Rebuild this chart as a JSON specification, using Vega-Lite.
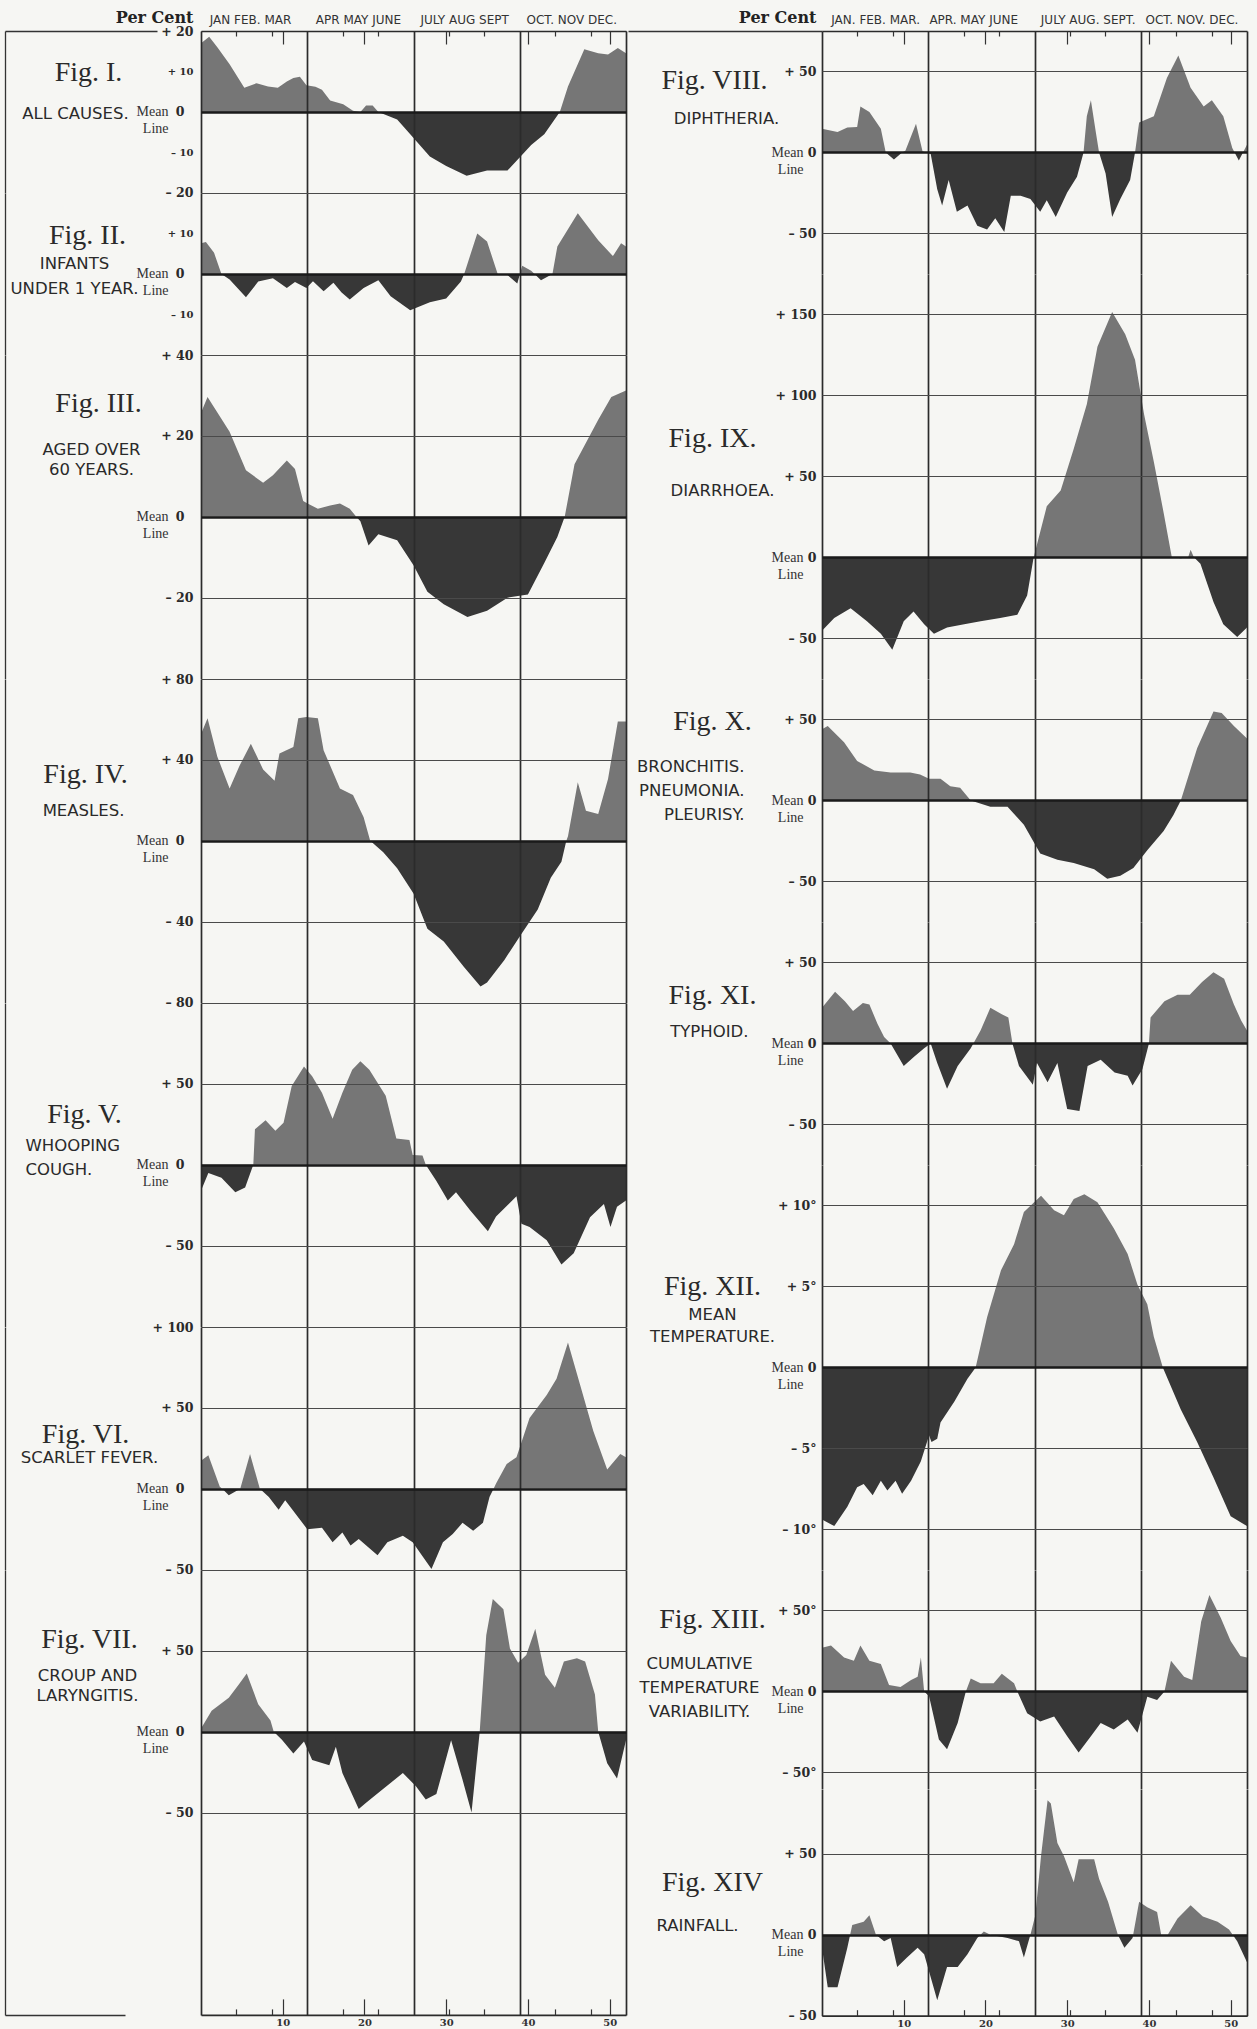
{
"$schema":"https://vega.github.io/schema/vega-lite/v6.json",
"background":"#f6f6f3",
"padding":{"left":4,"top":9,"right":13,"bottom":1},
"autosize":{"type":"pad"},
"config":{"view":{"stroke":null},"font":"DejaVu Sans","concat":{"spacing":0}},
"datasets":{
"f1":[{"w":0,"v":17},{"w":1,"v":18.6},{"w":2,"v":16},{"w":3.5,"v":11.8},{"w":5.3,"v":6},{"w":6.8,"v":7.1},{"w":8.2,"v":6.3},{"w":9.4,"v":6},{"w":10.5,"v":7.5},{"w":11.3,"v":8.4},{"w":12.1,"v":8.7},{"w":12.9,"v":6.6},{"w":14,"v":6.2},{"w":14.8,"v":5.5},{"w":15.8,"v":2.8},{"w":17.4,"v":1.9},{"w":18.6,"v":0.3},{"w":19.5,"v":0},{"w":20.2,"v":1.6},{"w":21,"v":1.6},{"w":21.7,"v":0},{"w":24,"v":-1.9},{"w":25.6,"v":-5.5},{"w":28,"v":-11},{"w":30,"v":-13.4},{"w":32.5,"v":-15.8},{"w":35,"v":-14.5},{"w":37.5,"v":-14.5},{"w":39.1,"v":-11},{"w":40.4,"v":-8.2},{"w":42,"v":-5.5},{"w":43.9,"v":0},{"w":44.9,"v":6.3},{"w":46.9,"v":15.5},{"w":48.6,"v":14.5},{"w":49.8,"v":14.2},{"w":51,"v":15.8},{"w":52,"v":14.5}],
"f2":[{"w":0,"v":7.6},{"w":0.6,"v":7.9},{"w":1.6,"v":5.2},{"w":2.5,"v":0},{"w":3.5,"v":-1.4},{"w":5.5,"v":-5.8},{"w":7,"v":-1.9},{"w":8.8,"v":-1.1},{"w":10.5,"v":-3.5},{"w":11.5,"v":-2},{"w":12.9,"v":-3.5},{"w":13.7,"v":-1.8},{"w":15,"v":-4.3},{"w":16.2,"v":-2.2},{"w":17.2,"v":-4.6},{"w":18.2,"v":-6.3},{"w":19.9,"v":-3.5},{"w":21.7,"v":-1.6},{"w":23.2,"v":-5.5},{"w":25.6,"v":-9},{"w":28,"v":-7},{"w":30,"v":-6.1},{"w":31.8,"v":-1.9},{"w":32.2,"v":0},{"w":33.8,"v":10},{"w":35,"v":8},{"w":36.3,"v":0},{"w":37.5,"v":-0.3},{"w":38.7,"v":-2.4},{"w":39.3,"v":2},{"w":40.4,"v":0.8},{"w":41.6,"v":-1.6},{"w":43,"v":0},{"w":43.6,"v":6.8},{"w":46.1,"v":15},{"w":48.6,"v":8.3},{"w":50.4,"v":4.4},{"w":51.4,"v":7.6},{"w":52,"v":6.8}],
"f3":[{"w":0,"v":25.7},{"w":0.8,"v":29.6},{"w":3.5,"v":21},{"w":5.5,"v":11.5},{"w":7.6,"v":8.4},{"w":8.8,"v":10.3},{"w":10.5,"v":13.9},{"w":11.5,"v":11.8},{"w":12.5,"v":3.9},{"w":13.1,"v":3.2},{"w":14.3,"v":2},{"w":15.8,"v":2.8},{"w":17,"v":3.3},{"w":18.2,"v":2},{"w":19,"v":0},{"w":19.5,"v":-1.1},{"w":20.5,"v":-7.1},{"w":21.7,"v":-4.3},{"w":24,"v":-5.8},{"w":26,"v":-12},{"w":27.7,"v":-18.5},{"w":29.7,"v":-21.6},{"w":32.6,"v":-24.8},{"w":35,"v":-23.2},{"w":37.5,"v":-20},{"w":40,"v":-19.2},{"w":42,"v":-11.4},{"w":43.6,"v":-5},{"w":44.5,"v":0},{"w":45.7,"v":13},{"w":48.6,"v":24},{"w":50.2,"v":29.6},{"w":52,"v":31.2}],
"f4":[{"w":0,"v":52.7},{"w":0.8,"v":60.6},{"w":2,"v":41.6},{"w":3.5,"v":25.9},{"w":4.7,"v":37},{"w":6.1,"v":48},{"w":7.6,"v":35.3},{"w":9,"v":29.7},{"w":9.6,"v":43.2},{"w":11.3,"v":46.4},{"w":11.9,"v":60.6},{"w":12.9,"v":61.2},{"w":14.3,"v":60.6},{"w":15,"v":44.8},{"w":17,"v":25.9},{"w":18.6,"v":22.7},{"w":19.9,"v":11.7},{"w":20.7,"v":0},{"w":22.3,"v":-5.7},{"w":24,"v":-13.6},{"w":26,"v":-26},{"w":27.7,"v":-43.5},{"w":29.7,"v":-49.8},{"w":32.2,"v":-62.5},{"w":34.2,"v":-72},{"w":35,"v":-70},{"w":37.1,"v":-59},{"w":39.1,"v":-46.7},{"w":41.2,"v":-34},{"w":42.8,"v":-18.3},{"w":44.1,"v":-10.4},{"w":44.7,"v":0},{"w":44.9,"v":2.2},{"w":46.1,"v":29},{"w":47.1,"v":14.8},{"w":48.6,"v":13.2},{"w":49.8,"v":30.6},{"w":51,"v":59},{"w":52,"v":59}],
"f5":[{"w":0,"v":-16},{"w":0.9,"v":-5},{"w":2.5,"v":-8},{"w":4.2,"v":-17},{"w":5.4,"v":-14},{"w":6.4,"v":0},{"w":6.6,"v":22},{"w":7.9,"v":27.6},{"w":9.1,"v":21},{"w":10.1,"v":26},{"w":11.1,"v":48.7},{"w":12.6,"v":60.8},{"w":13.6,"v":54.7},{"w":14.8,"v":44.6},{"w":16.1,"v":28.4},{"w":17.3,"v":44.6},{"w":18.5,"v":58.8},{"w":19.5,"v":64},{"w":20.6,"v":58.8},{"w":22.6,"v":42.6},{"w":23.9,"v":16.2},{"w":25.5,"v":15.4},{"w":25.9,"v":6},{"w":27.1,"v":5.7},{"w":27.5,"v":0},{"w":28.8,"v":-10},{"w":30.2,"v":-22},{"w":31.2,"v":-17},{"w":32.9,"v":-28},{"w":35.1,"v":-41},{"w":36.1,"v":-32},{"w":38.6,"v":-19.5},{"w":39.2,"v":-36.5},{"w":40.2,"v":-38.5},{"w":42.3,"v":-46.6},{"w":44.1,"v":-61.6},{"w":45.6,"v":-54.7},{"w":47.6,"v":-32.4},{"w":49.3,"v":-24.3},{"w":50.1,"v":-38.5},{"w":50.9,"v":-26},{"w":52,"v":-22}],
"f6":[{"w":0,"v":17.4},{"w":0.9,"v":20.7},{"w":2.3,"v":1.2},{"w":2.6,"v":0},{"w":3.4,"v":-4},{"w":4.8,"v":0},{"w":6,"v":21.5},{"w":7.2,"v":0},{"w":8.3,"v":-5},{"w":9.5,"v":-13},{"w":10.3,"v":-7},{"w":12.4,"v":-21},{"w":13,"v":-25},{"w":14.8,"v":-24},{"w":16.1,"v":-33},{"w":17.3,"v":-27},{"w":18.3,"v":-35},{"w":19.3,"v":-31},{"w":21.6,"v":-41},{"w":22.8,"v":-33},{"w":24.7,"v":-29},{"w":25.9,"v":-33},{"w":28.2,"v":-49.5},{"w":29.6,"v":-33},{"w":30.8,"v":-28},{"w":32,"v":-21},{"w":33.3,"v":-26},{"w":34.5,"v":-21},{"w":35.3,"v":-5},{"w":35.8,"v":0},{"w":36.1,"v":3.2},{"w":37.4,"v":15.4},{"w":38.6,"v":19.5},{"w":40.2,"v":43.8},{"w":42.3,"v":58},{"w":43.5,"v":68},{"w":44.9,"v":90.4},{"w":46.4,"v":64},{"w":48,"v":35.7},{"w":49.7,"v":12},{"w":51.3,"v":21.5},{"w":52,"v":19.5}],
"f7":[{"w":0,"v":2},{"w":1.3,"v":13},{"w":3.4,"v":21},{"w":4.6,"v":29},{"w":5.6,"v":36},{"w":7,"v":17},{"w":8.5,"v":7},{"w":8.9,"v":0},{"w":9.9,"v":-5},{"w":11.3,"v":-13.4},{"w":12.6,"v":-6},{"w":13.6,"v":-17.4},{"w":15.7,"v":-20.7},{"w":16.5,"v":-9.3},{"w":17.3,"v":-25.5},{"w":19.3,"v":-47.8},{"w":20.2,"v":-43.8},{"w":22.2,"v":-35.7},{"w":24.7,"v":-25.5},{"w":26.3,"v":-33.7},{"w":27.5,"v":-41.8},{"w":28.8,"v":-38.5},{"w":30.6,"v":-5.3},{"w":32,"v":-29.6},{"w":33.1,"v":-49.9},{"w":34.1,"v":0},{"w":34.9,"v":59.6},{"w":35.7,"v":82},{"w":37,"v":75.8},{"w":37.8,"v":51.5},{"w":38.8,"v":42.6},{"w":39.8,"v":47.4},{"w":40.9,"v":63.7},{"w":42.1,"v":35.3},{"w":43.3,"v":27.2},{"w":44.4,"v":43.4},{"w":46,"v":45.4},{"w":47,"v":43.4},{"w":48.2,"v":23.1},{"w":48.6,"v":0},{"w":49.7,"v":-19.5},{"w":50.9,"v":-28.8},{"w":52,"v":-5.3}],
"f8":[{"w":0,"v":14.6},{"w":1.9,"v":12.6},{"w":3.1,"v":15.4},{"w":4.3,"v":15.7},{"w":4.7,"v":28.3},{"w":5.8,"v":25},{"w":7.2,"v":14.6},{"w":7.8,"v":0},{"w":8.8,"v":-4.3},{"w":9.8,"v":0},{"w":10.2,"v":1},{"w":11.5,"v":17.7},{"w":12.3,"v":0.8},{"w":13.3,"v":-1},{"w":14.1,"v":-22.8},{"w":14.7,"v":-32.7},{"w":15.5,"v":-17},{"w":16.5,"v":-36.6},{"w":17.8,"v":-32.7},{"w":19,"v":-45.3},{"w":20.2,"v":-47.6},{"w":21.2,"v":-40.6},{"w":22.3,"v":-49.2},{"w":23.1,"v":-26.8},{"w":24.3,"v":-26.8},{"w":25.5,"v":-28.7},{"w":26.7,"v":-36.6},{"w":27.5,"v":-29.5},{"w":28.6,"v":-39.8},{"w":30,"v":-24.8},{"w":31.2,"v":-15},{"w":32,"v":0},{"w":32.4,"v":22.4},{"w":32.9,"v":32.3},{"w":33.5,"v":12.6},{"w":33.9,"v":0},{"w":34.7,"v":-13},{"w":35.5,"v":-39.8},{"w":36.5,"v":-28.7},{"w":37.7,"v":-17},{"w":38.3,"v":0},{"w":38.8,"v":18.5},{"w":40.6,"v":22.4},{"w":42.2,"v":46},{"w":43.6,"v":59.8},{"w":45.1,"v":40},{"w":46.7,"v":28.3},{"w":47.7,"v":32.3},{"w":49.1,"v":22.4},{"w":50.2,"v":2.8},{"w":51,"v":-5},{"w":52,"v":4.7}],
"f9":[{"w":0,"v":-45.3},{"w":1.5,"v":-37.4},{"w":3.5,"v":-31.5},{"w":5.5,"v":-39.4},{"w":7.2,"v":-47.2},{"w":8.6,"v":-57},{"w":10,"v":-39.4},{"w":11.2,"v":-33.5},{"w":12.5,"v":-41.3},{"w":13.7,"v":-47.2},{"w":15.3,"v":-43.3},{"w":17.4,"v":-41.3},{"w":19.4,"v":-39.4},{"w":21.8,"v":-37.4},{"w":23.9,"v":-35.4},{"w":25.1,"v":-23.6},{"w":25.9,"v":0},{"w":27.5,"v":31.5},{"w":29.2,"v":41.3},{"w":30.8,"v":67},{"w":32.4,"v":94.5},{"w":33.7,"v":130},{"w":35.5,"v":151.6},{"w":37.1,"v":137.8},{"w":38.3,"v":122},{"w":39.4,"v":88.6},{"w":40.6,"v":59},{"w":41.8,"v":27.6},{"w":42.8,"v":0},{"w":43.9,"v":-0.5},{"w":44.8,"v":0},{"w":45.1,"v":4.7},{"w":45.5,"v":0},{"w":46.3,"v":-4},{"w":47.9,"v":-27.6},{"w":49.1,"v":-41.3},{"w":50.8,"v":-49.2},{"w":52,"v":-43.3}],
"f10":[{"w":0,"v":44},{"w":0.7,"v":46},{"w":2.7,"v":36},{"w":4.3,"v":24.4},{"w":6.4,"v":18.5},{"w":8.4,"v":17.3},{"w":10.8,"v":17.3},{"w":12,"v":16},{"w":13.1,"v":13.4},{"w":14.5,"v":13.4},{"w":15.7,"v":8.7},{"w":16.9,"v":7.9},{"w":18.2,"v":0},{"w":20.6,"v":-3.9},{"w":22.7,"v":-3.9},{"w":24.7,"v":-15},{"w":26.7,"v":-32.7},{"w":28.8,"v":-36.6},{"w":30.8,"v":-38.6},{"w":33.3,"v":-42.5},{"w":34.9,"v":-48.4},{"w":36.5,"v":-46.5},{"w":38.1,"v":-41.7},{"w":39.8,"v":-30.7},{"w":41.8,"v":-18.9},{"w":43,"v":-9},{"w":43.9,"v":0},{"w":45.9,"v":32.3},{"w":47.9,"v":55},{"w":48.9,"v":54},{"w":50.4,"v":46},{"w":52,"v":38.2}],
"f11":[{"w":0,"v":22},{"w":0.8,"v":27},{"w":1.6,"v":32},{"w":2.8,"v":26},{"w":3.8,"v":20},{"w":5,"v":25},{"w":5.8,"v":24},{"w":6.8,"v":12},{"w":7.6,"v":4},{"w":8.4,"v":0},{"w":10,"v":-14},{"w":11.3,"v":-8},{"w":12.5,"v":-3},{"w":13.3,"v":0},{"w":14.1,"v":-12},{"w":15.3,"v":-28},{"w":16.6,"v":-14},{"w":18.2,"v":-3},{"w":19.4,"v":8},{"w":20.6,"v":22},{"w":22,"v":18},{"w":22.8,"v":16},{"w":23.3,"v":0},{"w":24.1,"v":-14},{"w":25.8,"v":-25.5},{"w":26.3,"v":-12},{"w":27.6,"v":-24},{"w":28.8,"v":-12},{"w":30,"v":-40.5},{"w":31.5,"v":-41.7},{"w":32.5,"v":-14},{"w":34.1,"v":-10},{"w":35.8,"v":-18},{"w":37.4,"v":-20},{"w":38,"v":-26},{"w":39.2,"v":-16},{"w":40,"v":0},{"w":40.2,"v":16},{"w":41.9,"v":26},{"w":43.5,"v":30},{"w":45,"v":30},{"w":46.5,"v":38},{"w":47.9,"v":44},{"w":49.2,"v":40},{"w":50.4,"v":24},{"w":51.3,"v":14},{"w":52,"v":8}],
"f12":[{"w":0,"v":-9.4},{"w":1.5,"v":-9.8},{"w":3.1,"v":-8.6},{"w":4.3,"v":-7.4},{"w":5.1,"v":-7.2},{"w":6.2,"v":-7.9},{"w":7.2,"v":-7},{"w":8,"v":-7.6},{"w":9,"v":-7},{"w":9.8,"v":-7.8},{"w":10.9,"v":-7},{"w":12.1,"v":-5.8},{"w":13.1,"v":-4.2},{"w":13.4,"v":-4.6},{"w":14.1,"v":-4.4},{"w":14.5,"v":-3.4},{"w":16.2,"v":-2.1},{"w":17.8,"v":-0.7},{"w":18.8,"v":0},{"w":20.2,"v":3.1},{"w":21.9,"v":6},{"w":23.5,"v":7.6},{"w":24.7,"v":9.6},{"w":26.8,"v":10.6},{"w":28.4,"v":9.7},{"w":29.6,"v":9.4},{"w":30.8,"v":10.4},{"w":32.1,"v":10.7},{"w":33.7,"v":10.2},{"w":35.7,"v":8.6},{"w":37.4,"v":7},{"w":38.6,"v":5.1},{"w":39.8,"v":3.9},{"w":40.6,"v":1.9},{"w":41.7,"v":0},{"w":43.9,"v":-2.6},{"w":45.9,"v":-4.6},{"w":47.9,"v":-6.8},{"w":50,"v":-9.2},{"w":52,"v":-9.8}],
"f13":[{"w":0,"v":27},{"w":1.1,"v":28.4},{"w":2.7,"v":21},{"w":3.9,"v":19},{"w":4.7,"v":28.4},{"w":5.8,"v":19},{"w":7.2,"v":17},{"w":8.2,"v":4},{"w":9.6,"v":2.8},{"w":10.9,"v":7},{"w":11.7,"v":9},{"w":12.1,"v":21},{"w":12.5,"v":0},{"w":13.1,"v":-3},{"w":14.3,"v":-29.6},{"w":15.3,"v":-35.7},{"w":16.6,"v":-19.5},{"w":17.6,"v":0},{"w":18.2,"v":8},{"w":19.4,"v":5},{"w":21,"v":5},{"w":22,"v":11},{"w":23.5,"v":5},{"w":23.9,"v":0},{"w":25.1,"v":-13.4},{"w":26.7,"v":-18.6},{"w":28.4,"v":-15.4},{"w":30,"v":-27.6},{"w":31.4,"v":-37.7},{"w":32.9,"v":-27.6},{"w":34.1,"v":-19.5},{"w":35.7,"v":-23.5},{"w":37.4,"v":-17.4},{"w":38.6,"v":-25.5},{"w":39.8,"v":-3.2},{"w":41,"v":-5.3},{"w":41.9,"v":0},{"w":42.7,"v":19},{"w":44.3,"v":9},{"w":45.3,"v":7},{"w":46.4,"v":43.4},{"w":47.4,"v":59.6},{"w":48.8,"v":45.4},{"w":50,"v":31.2},{"w":51.2,"v":21.9},{"w":52,"v":21}],
"f14":[{"w":0,"v":-8},{"w":0.7,"v":-32.4},{"w":1.9,"v":-32.4},{"w":3.1,"v":-8},{"w":3.7,"v":6},{"w":5.1,"v":8},{"w":5.8,"v":12},{"w":6.6,"v":0},{"w":7.6,"v":-4},{"w":8.4,"v":-2},{"w":9.2,"v":-20},{"w":10.4,"v":-14},{"w":11.7,"v":-8},{"w":12.5,"v":-12},{"w":14.1,"v":-40.5},{"w":15.3,"v":-20},{"w":16.6,"v":-20},{"w":17.8,"v":-12},{"w":19,"v":-2},{"w":19.8,"v":2},{"w":20.6,"v":0},{"w":22.7,"v":-2},{"w":24.1,"v":-4},{"w":24.7,"v":-14},{"w":25.5,"v":0},{"w":26.1,"v":12},{"w":26.8,"v":48.6},{"w":27.6,"v":83},{"w":28,"v":81},{"w":28.8,"v":56.7},{"w":29.6,"v":48.6},{"w":30.8,"v":32.4},{"w":31.4,"v":46.6},{"w":33.3,"v":46.6},{"w":33.9,"v":34.5},{"w":35,"v":20.3},{"w":36.2,"v":0},{"w":37,"v":-8},{"w":38,"v":-2},{"w":38.8,"v":20.3},{"w":39.8,"v":17},{"w":41,"v":14},{"w":41.5,"v":0},{"w":42.3,"v":0},{"w":43.5,"v":10},{"w":45.1,"v":18.2},{"w":46.6,"v":11.3},{"w":48.4,"v":8},{"w":49.8,"v":3.2},{"w":50.8,"v":-4},{"w":52,"v":-17}]
},
"spacing":-2,
"hconcat":[
{"vconcat":[
{"width":425,"height":161.8,"data":{"name":"f1"},"layer":[
{"mark":{"type":"area","clip":true,"fillOpacity":1,"fill":{"gradient":"linear","x1":0,"y1":0,"x2":0,"y2":1,"stops":[{"offset":0,"color":"#767676"},{"offset":0.5407,"color":"#767676"},{"offset":0.5407,"color":"#373737"},{"offset":1,"color":"#373737"}]}},
"encoding":{"x":{"field":"w","type":"quantitative","scale":{"domain":[0,52],"nice":false,"zero":false},"axis":{"orient":"bottom","values":[0,13,26,39,52],"grid":true,"gridColor":"#2b2b2b","gridWidth":1.7,"labels":false,"ticks":false,"domain":false,"title":null,"zindex":1}},
"y":{"field":"v","type":"quantitative","scale":{"domain":[-20,20],"nice":false,"zero":false},"axis":{"orient":"left","values":[20,10,0,-10,-20],"labelExpr":"datum.value > 0 ? '+ ' + datum.value : datum.value < 0 ? '– ' + (-datum.value) : '0'","grid":false,"ticks":false,"domain":false,"labelFont":"DejaVu Serif","labelFontWeight":"bold","labelFontSize":{"condition":{"test":"abs(datum.value) === 10","value":10},"value":12.5},"labelColor":"#2a2a2a","labelPadding":{"condition":{"test":"datum.value === 0","value":17},"value":8},"labelOverlap":false,"title":"Fig. I.","titleAngle":0,"titleAlign":"center","titleBaseline":"top","titleX":-113,"titleY":27,"titleFont":"Liberation Serif","titleFontSize":28,"titleFontWeight":"normal","titleColor":"#2a2a2a"}},
"y2":{"datum":0}}},
{"mark":{"type":"point","opacity":0},
"encoding":{"x":{"field":"w","type":"quantitative","scale":{"domain":[0,52],"nice":false,"zero":false},"axis":{"orient":"top","values":[6.0,19.2,32.2,45.3],"labelExpr":"datum.value < 13 ? 'JAN FEB. MAR' : datum.value < 26 ? 'APR MAY JUNE' : datum.value < 39 ? 'JULY AUG SEPT' : 'OCT. NOV DEC.'","ticks":false,"grid":false,"domain":true,"domainColor":"#2b2b2b","domainWidth":1.7,"labelFont":"DejaVu Sans","labelFontSize":12,"labelColor":"#333","labelPadding":5,"labelFlush":false,"labelOverlap":false,"title":"Per Cent","titleFont":"DejaVu Serif","titleFontWeight":"bold","titleFontSize":16,"titleColor":"#222","titleAngle":0,"titleAlign":"right","titleBaseline":"alphabetic","titleX":-8,"titleY":-9,"zindex":1}},
"y":{"field":"v","type":"quantitative","scale":{"domain":[-20,20],"nice":false,"zero":false},"axis":{"orient":"left","values":[20,0,-20],"grid":true,"gridColor":{"condition":{"test":"datum.value === 0","value":"#1a1a1a"},"value":"#4a4a4a"},"gridWidth":{"condition":{"test":"datum.value === 0","value":2.4},"value":1},"ticks":false,"domain":false,"labelExpr":"datum.value === 0 ? ['Mean','Line'] : ''","labelFont":"Liberation Serif","labelFontSize":14,"labelLineHeight":17,"labelColor":"#333","labelPadding":33,"labelOverlap":false,"zindex":1,"title":"ALL CAUSES.","titleAngle":0,"titleAlign":"center","titleBaseline":"top","titleX":-126,"titleY":74,"titleFont":"DejaVu Sans","titleFontSize":16.5,"titleFontWeight":"normal","titleLineHeight":18,"titleColor":"#2a2a2a"}}}},
{"mark":{"type":"point","opacity":0},
"encoding":{"x":{"field":"w","type":"quantitative","scale":{"domain":[0,52],"nice":false,"zero":false},"axis":{"orient":"top","values":[4.33,8.67,17.33,21.67,30.33,34.67,43.33,47.67],"ticks":true,"tickSize":-5,"tickColor":"#333","tickWidth":1.2,"labels":false,"domain":false,"grid":false,"title":null,"zindex":1}},
"y":{"field":"v","type":"quantitative","scale":{"domain":[-20,20],"nice":false,"zero":false},"axis":{"orient":"left","offset":196,"domain":true,"domainColor":"#333","domainWidth":1.3,"ticks":true,"values":[20],"tickSize":-152,"tickColor":"#333","tickWidth":1.3,"labels":false,"grid":false,"title":null}}}},
{"mark":{"type":"point","opacity":0},
"encoding":{"x":{"field":"w","type":"quantitative","scale":{"domain":[0,52],"nice":false,"zero":false},"axis":{"orient":"top","values":[10,20,30,40,50],"ticks":true,"tickSize":-13,"tickColor":"#333","tickWidth":1.2,"labels":false,"domain":false,"grid":false,"title":null,"zindex":1}},
"y":{"field":"v","type":"quantitative","scale":{"domain":[-20,20],"nice":false,"zero":false},"axis":null}}}
],"resolve":{"axis":{"x":"independent","y":"independent"}}},

{"width":425,"height":161.8,"data":{"name":"f2"},"layer":[
{"mark":{"type":"area","clip":true,"fillOpacity":1,"fill":{"gradient":"linear","x1":0,"y1":0,"x2":0,"y2":1,"stops":[{"offset":0,"color":"#767676"},{"offset":0.625,"color":"#767676"},{"offset":0.625,"color":"#373737"},{"offset":1,"color":"#373737"}]}},
"encoding":{"x":{"field":"w","type":"quantitative","scale":{"domain":[0,52],"nice":false,"zero":false},"axis":{"orient":"bottom","values":[0,13,26,39,52],"grid":true,"gridColor":"#2b2b2b","gridWidth":1.7,"labels":false,"ticks":false,"domain":false,"title":null,"zindex":1}},
"y":{"field":"v","type":"quantitative","scale":{"domain":[-20,20],"nice":false,"zero":false},"axis":{"orient":"left","values":[10,0,-10],"labelExpr":"datum.value > 0 ? '+ ' + datum.value : datum.value < 0 ? '– ' + (-datum.value) : '0'","grid":false,"ticks":false,"domain":false,"labelFont":"DejaVu Serif","labelFontWeight":"bold","labelFontSize":{"condition":{"test":"abs(datum.value) === 10","value":10},"value":12.5},"labelColor":"#2a2a2a","labelPadding":{"condition":{"test":"datum.value === 0","value":17},"value":8},"labelOverlap":false,"title":"Fig. II.","titleAngle":0,"titleAlign":"center","titleBaseline":"top","titleX":-114,"titleY":28,"titleFont":"Liberation Serif","titleFontSize":28,"titleFontWeight":"normal","titleColor":"#2a2a2a"}},
"y2":{"datum":0}}},
{"mark":{"type":"point","opacity":0},
"encoding":{"x":{"field":"w","type":"quantitative","scale":{"domain":[0,52],"nice":false,"zero":false},"axis":null},
"y":{"field":"v","type":"quantitative","scale":{"domain":[-20,20],"nice":false,"zero":false},"axis":{"orient":"left","values":[20,0,-20],"grid":true,"gridColor":{"condition":{"test":"datum.value === 0","value":"#1a1a1a"},"value":"#4a4a4a"},"gridWidth":{"condition":{"test":"datum.value === 0","value":2.4},"value":1},"ticks":false,"domain":false,"labelExpr":"datum.value === 0 ? ['Mean','Line'] : ''","labelFont":"Liberation Serif","labelFontSize":14,"labelLineHeight":17,"labelColor":"#333","labelPadding":33,"labelOverlap":false,"zindex":1,"title":["INFANTS","UNDER 1 YEAR."],"titleAngle":0,"titleAlign":"center","titleBaseline":"top","titleX":-127,"titleY":62,"titleFont":"DejaVu Sans","titleFontSize":16.5,"titleFontWeight":"normal","titleLineHeight":25,"titleColor":"#2a2a2a"}}}},
{"mark":{"type":"point","opacity":0},
"encoding":{"x":{"field":"w","type":"quantitative","scale":{"domain":[0,52],"nice":false,"zero":false},"axis":null},
"y":{"field":"v","type":"quantitative","scale":{"domain":[-20,20],"nice":false,"zero":false},"axis":{"orient":"left","offset":196,"domain":true,"domainColor":"#333","domainWidth":1.3,"ticks":false,"labels":false,"grid":false,"title":null}}}}
],"resolve":{"axis":{"x":"independent","y":"independent"}}},

{"width":425,"height":323.6,"data":{"name":"f3"},"layer":[
{"mark":{"type":"area","clip":true,"fillOpacity":1,"fill":{"gradient":"linear","x1":0,"y1":0,"x2":0,"y2":1,"stops":[{"offset":0,"color":"#767676"},{"offset":0.5571,"color":"#767676"},{"offset":0.5571,"color":"#373737"},{"offset":1,"color":"#373737"}]}},
"encoding":{"x":{"field":"w","type":"quantitative","scale":{"domain":[0,52],"nice":false,"zero":false},"axis":{"orient":"bottom","values":[0,13,26,39,52],"grid":true,"gridColor":"#2b2b2b","gridWidth":1.7,"labels":false,"ticks":false,"domain":false,"title":null,"zindex":1}},
"y":{"field":"v","type":"quantitative","scale":{"domain":[-40,40],"nice":false,"zero":false},"axis":{"orient":"left","values":[40,20,0,-20],"labelExpr":"datum.value > 0 ? '+ ' + datum.value : datum.value < 0 ? '– ' + (-datum.value) : '0'","grid":false,"ticks":false,"domain":false,"labelFont":"DejaVu Serif","labelFontWeight":"bold","labelFontSize":12.5,"labelColor":"#2a2a2a","labelPadding":{"condition":{"test":"datum.value === 0","value":17},"value":8},"labelOverlap":false,"title":"Fig. III.","titleAngle":0,"titleAlign":"center","titleBaseline":"top","titleX":-103,"titleY":34,"titleFont":"Liberation Serif","titleFontSize":28,"titleFontWeight":"normal","titleColor":"#2a2a2a"}},
"y2":{"datum":0}}},
{"mark":{"type":"point","opacity":0},
"encoding":{"x":{"field":"w","type":"quantitative","scale":{"domain":[0,52],"nice":false,"zero":false},"axis":null},
"y":{"field":"v","type":"quantitative","scale":{"domain":[-40,40],"nice":false,"zero":false},"axis":{"orient":"left","values":[40,20,0,-20,-40],"grid":true,"gridColor":{"condition":{"test":"datum.value === 0","value":"#1a1a1a"},"value":"#4a4a4a"},"gridWidth":{"condition":{"test":"datum.value === 0","value":2.4},"value":1},"ticks":false,"domain":false,"labelExpr":"datum.value === 0 ? ['Mean','Line'] : ''","labelFont":"Liberation Serif","labelFontSize":14,"labelLineHeight":17,"labelColor":"#333","labelPadding":33,"labelOverlap":false,"zindex":1,"title":["AGED OVER","60 YEARS."],"titleAngle":0,"titleAlign":"center","titleBaseline":"top","titleX":-110,"titleY":86,"titleFont":"DejaVu Sans","titleFontSize":16.5,"titleFontWeight":"normal","titleLineHeight":20,"titleColor":"#2a2a2a"}}}},
{"mark":{"type":"point","opacity":0},
"encoding":{"x":{"field":"w","type":"quantitative","scale":{"domain":[0,52],"nice":false,"zero":false},"axis":null},
"y":{"field":"v","type":"quantitative","scale":{"domain":[-40,40],"nice":false,"zero":false},"axis":{"orient":"left","offset":196,"domain":true,"domainColor":"#333","domainWidth":1.3,"ticks":false,"labels":false,"grid":false,"title":null}}}}
],"resolve":{"axis":{"x":"independent","y":"independent"}}},

{"width":425,"height":323.6,"data":{"name":"f4"},"layer":[
{"mark":{"type":"area","clip":true,"fillOpacity":1,"fill":{"gradient":"linear","x1":0,"y1":0,"x2":0,"y2":1,"stops":[{"offset":0,"color":"#767676"},{"offset":0.4595,"color":"#767676"},{"offset":0.4595,"color":"#373737"},{"offset":1,"color":"#373737"}]}},
"encoding":{"x":{"field":"w","type":"quantitative","scale":{"domain":[0,52],"nice":false,"zero":false},"axis":{"orient":"bottom","values":[0,13,26,39,52],"grid":true,"gridColor":"#2b2b2b","gridWidth":1.7,"labels":false,"ticks":false,"domain":false,"title":null,"zindex":1}},
"y":{"field":"v","type":"quantitative","scale":{"domain":[-80,80],"nice":false,"zero":false},"axis":{"orient":"left","values":[80,40,0,-40,-80],"labelExpr":"datum.value > 0 ? '+ ' + datum.value : datum.value < 0 ? '– ' + (-datum.value) : '0'","grid":false,"ticks":false,"domain":false,"labelFont":"DejaVu Serif","labelFontWeight":"bold","labelFontSize":12.5,"labelColor":"#2a2a2a","labelPadding":{"condition":{"test":"datum.value === 0","value":17},"value":8},"labelOverlap":false,"title":"Fig. IV.","titleAngle":0,"titleAlign":"center","titleBaseline":"top","titleX":-116,"titleY":81,"titleFont":"Liberation Serif","titleFontSize":28,"titleFontWeight":"normal","titleColor":"#2a2a2a"}},
"y2":{"datum":0}}},
{"mark":{"type":"point","opacity":0},
"encoding":{"x":{"field":"w","type":"quantitative","scale":{"domain":[0,52],"nice":false,"zero":false},"axis":null},
"y":{"field":"v","type":"quantitative","scale":{"domain":[-80,80],"nice":false,"zero":false},"axis":{"orient":"left","values":[80,40,0,-40,-80],"grid":true,"gridColor":{"condition":{"test":"datum.value === 0","value":"#1a1a1a"},"value":"#4a4a4a"},"gridWidth":{"condition":{"test":"datum.value === 0","value":2.4},"value":1},"ticks":false,"domain":false,"labelExpr":"datum.value === 0 ? ['Mean','Line'] : ''","labelFont":"Liberation Serif","labelFontSize":14,"labelLineHeight":17,"labelColor":"#333","labelPadding":33,"labelOverlap":false,"zindex":1,"title":"MEASLES.","titleAngle":0,"titleAlign":"center","titleBaseline":"top","titleX":-118,"titleY":123,"titleFont":"DejaVu Sans","titleFontSize":16.5,"titleFontWeight":"normal","titleColor":"#2a2a2a"}}}},
{"mark":{"type":"point","opacity":0},
"encoding":{"x":{"field":"w","type":"quantitative","scale":{"domain":[0,52],"nice":false,"zero":false},"axis":null},
"y":{"field":"v","type":"quantitative","scale":{"domain":[-80,80],"nice":false,"zero":false},"axis":{"orient":"left","offset":196,"domain":true,"domainColor":"#333","domainWidth":1.3,"ticks":false,"labels":false,"grid":false,"title":null}}}}
],"resolve":{"axis":{"x":"independent","y":"independent"}}},

{"width":425,"height":323.6,"data":{"name":"f5"},"layer":[
{"mark":{"type":"area","clip":true,"fillOpacity":1,"fill":{"gradient":"linear","x1":0,"y1":0,"x2":0,"y2":1,"stops":[{"offset":0,"color":"#767676"},{"offset":0.5096,"color":"#767676"},{"offset":0.5096,"color":"#373737"},{"offset":1,"color":"#373737"}]}},
"encoding":{"x":{"field":"w","type":"quantitative","scale":{"domain":[0,52],"nice":false,"zero":false},"axis":{"orient":"bottom","values":[0,13,26,39,52],"grid":true,"gridColor":"#2b2b2b","gridWidth":1.7,"labels":false,"ticks":false,"domain":false,"title":null,"zindex":1}},
"y":{"field":"v","type":"quantitative","scale":{"domain":[-100,100],"nice":false,"zero":false},"axis":{"orient":"left","values":[50,0,-50],"labelExpr":"datum.value > 0 ? '+ ' + datum.value : datum.value < 0 ? '– ' + (-datum.value) : '0'","grid":false,"ticks":false,"domain":false,"labelFont":"DejaVu Serif","labelFontWeight":"bold","labelFontSize":12.5,"labelColor":"#2a2a2a","labelPadding":{"condition":{"test":"datum.value === 0","value":17},"value":8},"labelOverlap":false,"title":"Fig. V.","titleAngle":0,"titleAlign":"center","titleBaseline":"top","titleX":-117,"titleY":97,"titleFont":"Liberation Serif","titleFontSize":28,"titleFontWeight":"normal","titleColor":"#2a2a2a"}},
"y2":{"datum":0}}},
{"mark":{"type":"point","opacity":0},
"encoding":{"x":{"field":"w","type":"quantitative","scale":{"domain":[0,52],"nice":false,"zero":false},"axis":null},
"y":{"field":"v","type":"quantitative","scale":{"domain":[-100,100],"nice":false,"zero":false},"axis":{"orient":"left","values":[100,50,0,-50,-100],"grid":true,"gridColor":{"condition":{"test":"datum.value === 0","value":"#1a1a1a"},"value":"#4a4a4a"},"gridWidth":{"condition":{"test":"datum.value === 0","value":2.4},"value":1},"ticks":false,"domain":false,"labelExpr":"datum.value === 0 ? ['Mean','Line'] : ''","labelFont":"Liberation Serif","labelFontSize":14,"labelLineHeight":17,"labelColor":"#333","labelPadding":33,"labelOverlap":false,"zindex":1,"title":["WHOOPING","COUGH."],"titleAngle":0,"titleAlign":"left","titleBaseline":"top","titleX":-176,"titleY":134,"titleFont":"DejaVu Sans","titleFontSize":16.5,"titleFontWeight":"normal","titleLineHeight":24,"titleColor":"#2a2a2a"}}}},
{"mark":{"type":"point","opacity":0},
"encoding":{"x":{"field":"w","type":"quantitative","scale":{"domain":[0,52],"nice":false,"zero":false},"axis":null},
"y":{"field":"v","type":"quantitative","scale":{"domain":[-100,100],"nice":false,"zero":false},"axis":{"orient":"left","offset":196,"domain":true,"domainColor":"#333","domainWidth":1.3,"ticks":false,"labels":false,"grid":false,"title":null}}}}
],"resolve":{"axis":{"x":"independent","y":"independent"}}},

{"width":425,"height":242.7,"data":{"name":"f6"},"layer":[
{"mark":{"type":"area","clip":true,"fillOpacity":1,"fill":{"gradient":"linear","x1":0,"y1":0,"x2":0,"y2":1,"stops":[{"offset":0,"color":"#767676"},{"offset":0.6462,"color":"#767676"},{"offset":0.6462,"color":"#373737"},{"offset":1,"color":"#373737"}]}},
"encoding":{"x":{"field":"w","type":"quantitative","scale":{"domain":[0,52],"nice":false,"zero":false},"axis":{"orient":"bottom","values":[0,13,26,39,52],"grid":true,"gridColor":"#2b2b2b","gridWidth":1.7,"labels":false,"ticks":false,"domain":false,"title":null,"zindex":1}},
"y":{"field":"v","type":"quantitative","scale":{"domain":[-50,100],"nice":false,"zero":false},"axis":{"orient":"left","values":[100,50,0,-50],"labelExpr":"datum.value > 0 ? '+ ' + datum.value : datum.value < 0 ? '– ' + (-datum.value) : '0'","grid":false,"ticks":false,"domain":false,"labelFont":"DejaVu Serif","labelFontWeight":"bold","labelFontSize":12.5,"labelColor":"#2a2a2a","labelPadding":{"condition":{"test":"datum.value === 0","value":17},"value":8},"labelOverlap":false,"title":"Fig. VI.","titleAngle":0,"titleAlign":"center","titleBaseline":"top","titleX":-116,"titleY":93,"titleFont":"Liberation Serif","titleFontSize":28,"titleFontWeight":"normal","titleColor":"#2a2a2a"}},
"y2":{"datum":0}}},
{"mark":{"type":"point","opacity":0},
"encoding":{"x":{"field":"w","type":"quantitative","scale":{"domain":[0,52],"nice":false,"zero":false},"axis":null},
"y":{"field":"v","type":"quantitative","scale":{"domain":[-50,100],"nice":false,"zero":false},"axis":{"orient":"left","values":[100,50,0,-50],"grid":true,"gridColor":{"condition":{"test":"datum.value === 0","value":"#1a1a1a"},"value":"#4a4a4a"},"gridWidth":{"condition":{"test":"datum.value === 0","value":2.4},"value":1},"ticks":false,"domain":false,"labelExpr":"datum.value === 0 ? ['Mean','Line'] : ''","labelFont":"Liberation Serif","labelFontSize":14,"labelLineHeight":17,"labelColor":"#333","labelPadding":33,"labelOverlap":false,"zindex":1,"title":"SCARLET FEVER.","titleAngle":0,"titleAlign":"center","titleBaseline":"top","titleX":-112,"titleY":122,"titleFont":"DejaVu Sans","titleFontSize":16.5,"titleFontWeight":"normal","titleColor":"#2a2a2a"}}}},
{"mark":{"type":"point","opacity":0},
"encoding":{"x":{"field":"w","type":"quantitative","scale":{"domain":[0,52],"nice":false,"zero":false},"axis":null},
"y":{"field":"v","type":"quantitative","scale":{"domain":[-50,100],"nice":false,"zero":false},"axis":{"orient":"left","offset":196,"domain":true,"domainColor":"#333","domainWidth":1.3,"ticks":false,"labels":false,"grid":false,"title":null}}}}
],"resolve":{"axis":{"x":"independent","y":"independent"}}},

{"width":425,"height":444.9,"data":{"name":"f7"},"layer":[
{"mark":{"type":"area","clip":true,"fillOpacity":1,"fill":{"gradient":"linear","x1":0,"y1":0,"x2":0,"y2":1,"stops":[{"offset":0,"color":"#767676"},{"offset":0.6217,"color":"#767676"},{"offset":0.6217,"color":"#373737"},{"offset":1,"color":"#373737"}]}},
"encoding":{"x":{"field":"w","type":"quantitative","scale":{"domain":[0,52],"nice":false,"zero":false},"axis":{"orient":"bottom","values":[0,13,26,39,52],"grid":true,"gridColor":"#2b2b2b","gridWidth":1.7,"labels":false,"ticks":false,"domain":false,"title":null,"zindex":1}},
"y":{"field":"v","type":"quantitative","scale":{"domain":[-175,100],"nice":false,"zero":false},"axis":{"orient":"left","values":[50,0,-50],"labelExpr":"datum.value > 0 ? '+ ' + datum.value : datum.value < 0 ? '– ' + (-datum.value) : '0'","grid":false,"ticks":false,"domain":false,"labelFont":"DejaVu Serif","labelFontWeight":"bold","labelFontSize":12.5,"labelColor":"#2a2a2a","labelPadding":{"condition":{"test":"datum.value === 0","value":17},"value":8},"labelOverlap":false,"title":"Fig. VII.","titleAngle":0,"titleAlign":"center","titleBaseline":"top","titleX":-112,"titleY":55,"titleFont":"Liberation Serif","titleFontSize":28,"titleFontWeight":"normal","titleColor":"#2a2a2a"}},
"y2":{"datum":0}}},
{"mark":{"type":"point","opacity":0},
"encoding":{"x":{"field":"w","type":"quantitative","scale":{"domain":[0,52],"nice":false,"zero":false},"axis":{"orient":"bottom","values":[10,20,30,40,50],"ticks":false,"grid":false,"domain":true,"domainColor":"#2b2b2b","domainWidth":1.7,"labelFont":"DejaVu Serif","labelFontWeight":"bold","labelFontSize":10,"labelColor":"#333","labelPadding":3,"labelFlush":false,"labelOverlap":false,"title":null,"zindex":1}},
"y":{"field":"v","type":"quantitative","scale":{"domain":[-175,100],"nice":false,"zero":false},"axis":{"orient":"left","values":[100,50,0,-50],"grid":true,"gridColor":{"condition":{"test":"datum.value === 0","value":"#1a1a1a"},"value":"#4a4a4a"},"gridWidth":{"condition":{"test":"datum.value === 0","value":2.4},"value":1},"ticks":false,"domain":false,"labelExpr":"datum.value === 0 ? ['Mean','Line'] : ''","labelFont":"Liberation Serif","labelFontSize":14,"labelLineHeight":17,"labelColor":"#333","labelPadding":33,"labelOverlap":false,"zindex":1,"title":["CROUP AND","LARYNGITIS."],"titleAngle":0,"titleAlign":"center","titleBaseline":"top","titleX":-114,"titleY":97,"titleFont":"DejaVu Sans","titleFontSize":16.5,"titleFontWeight":"normal","titleLineHeight":20,"titleColor":"#2a2a2a"}}}},
{"mark":{"type":"point","opacity":0},
"encoding":{"x":{"field":"w","type":"quantitative","scale":{"domain":[0,52],"nice":false,"zero":false},"axis":{"orient":"bottom","values":[4.33,8.67,17.33,21.67,30.33,34.67,43.33,47.67],"ticks":true,"tickSize":-6,"tickColor":"#333","tickWidth":1.2,"labels":false,"domain":false,"grid":false,"title":null,"zindex":1}},
"y":{"field":"v","type":"quantitative","scale":{"domain":[-175,100],"nice":false,"zero":false},"axis":{"orient":"left","offset":196,"domain":true,"domainColor":"#333","domainWidth":1.3,"ticks":true,"values":[-175],"tickSize":-120,"tickColor":"#333","tickWidth":1.3,"labels":false,"grid":false,"title":null}}}},
{"mark":{"type":"point","opacity":0},
"encoding":{"x":{"field":"w","type":"quantitative","scale":{"domain":[0,52],"nice":false,"zero":false},"axis":{"orient":"bottom","values":[10,20,30,40,50],"ticks":true,"tickSize":-16,"tickColor":"#333","tickWidth":1.2,"labels":false,"domain":false,"grid":false,"title":null,"zindex":1}},
"y":{"field":"v","type":"quantitative","scale":{"domain":[-175,100],"nice":false,"zero":false},"axis":null}}}
],"resolve":{"axis":{"x":"independent","y":"independent"}}}
],"spacing":0,"bounds":"flush"},

{"vconcat":[
{"width":425,"height":242.9,"data":{"name":"f8"},"layer":[
{"mark":{"type":"area","clip":true,"fillOpacity":1,"fill":{"gradient":"linear","x1":0,"y1":0,"x2":0,"y2":1,"stops":[{"offset":0,"color":"#767676"},{"offset":0.5486,"color":"#767676"},{"offset":0.5486,"color":"#373737"},{"offset":1,"color":"#373737"}]}},
"encoding":{"x":{"field":"w","type":"quantitative","scale":{"domain":[0,52],"nice":false,"zero":false},"axis":{"orient":"bottom","values":[0,13,26,39,52],"grid":true,"gridColor":"#2b2b2b","gridWidth":1.7,"labels":false,"ticks":false,"domain":false,"title":null,"zindex":1}},
"y":{"field":"v","type":"quantitative","scale":{"domain":[-75,75],"nice":false,"zero":false},"axis":{"orient":"left","values":[50,0,-50],"labelExpr":"datum.value > 0 ? '+ ' + datum.value : datum.value < 0 ? '– ' + (-datum.value) : '0'","grid":false,"ticks":false,"domain":false,"labelFont":"DejaVu Serif","labelFontWeight":"bold","labelFontSize":12.5,"labelColor":"#2a2a2a","labelPadding":6,"labelOverlap":false,"title":"Fig. VIII.","titleAngle":0,"titleAlign":"center","titleBaseline":"top","titleX":-108,"titleY":35,"titleFont":"Liberation Serif","titleFontSize":28,"titleFontWeight":"normal","titleColor":"#2a2a2a"}},
"y2":{"datum":0}}},
{"mark":{"type":"point","opacity":0},
"encoding":{"x":{"field":"w","type":"quantitative","scale":{"domain":[0,52],"nice":false,"zero":false},"axis":{"orient":"top","values":[6.5,18.5,32.5,45.2],"labelExpr":"datum.value < 13 ? 'JAN. FEB.  MAR.' : datum.value < 26 ? 'APR. MAY JUNE' : datum.value < 39 ? 'JULY  AUG. SEPT.' : 'OCT. NOV. DEC.'","ticks":false,"grid":false,"domain":true,"domainColor":"#2b2b2b","domainWidth":1.7,"labelFont":"DejaVu Sans","labelFontSize":12,"labelColor":"#333","labelPadding":5,"labelFlush":false,"labelOverlap":false,"title":"Per Cent","titleFont":"DejaVu Serif","titleFontWeight":"bold","titleFontSize":16,"titleColor":"#222","titleAngle":0,"titleAlign":"right","titleBaseline":"alphabetic","titleX":-6,"titleY":-9,"zindex":1}},
"y":{"field":"v","type":"quantitative","scale":{"domain":[-75,75],"nice":false,"zero":false},"axis":{"orient":"left","values":[50,0,-50],"grid":true,"gridColor":{"condition":{"test":"datum.value === 0","value":"#1a1a1a"},"value":"#4a4a4a"},"gridWidth":{"condition":{"test":"datum.value === 0","value":2.4},"value":1},"ticks":false,"domain":false,"labelExpr":"datum.value === 0 ? ['Mean','Line'] : ''","labelFont":"Liberation Serif","labelFontSize":14,"labelLineHeight":17,"labelColor":"#333","labelPadding":19,"labelOverlap":false,"zindex":1,"title":"DIPHTHERIA.","titleAngle":0,"titleAlign":"center","titleBaseline":"top","titleX":-96,"titleY":79,"titleFont":"DejaVu Sans","titleFontSize":16.5,"titleFontWeight":"normal","titleColor":"#2a2a2a"}}}},
{"mark":{"type":"point","opacity":0},
"encoding":{"x":{"field":"w","type":"quantitative","scale":{"domain":[0,52],"nice":false,"zero":false},"axis":{"orient":"top","values":[4.33,8.67,17.33,21.67,30.33,34.67,43.33,47.67],"ticks":true,"tickSize":-5,"tickColor":"#333","tickWidth":1.2,"labels":false,"domain":false,"grid":false,"title":null,"zindex":1}},
"y":{"field":"v","type":"quantitative","scale":{"domain":[-75,75],"nice":false,"zero":false},"axis":{"orient":"left","offset":194,"domain":false,"ticks":true,"values":[75],"tickSize":-194,"tickColor":"#333","tickWidth":1.3,"labels":false,"grid":false,"title":null}}}},
{"mark":{"type":"point","opacity":0},
"encoding":{"x":{"field":"w","type":"quantitative","scale":{"domain":[0,52],"nice":false,"zero":false},"axis":{"orient":"top","values":[10,20,30,40,50],"ticks":true,"tickSize":-13,"tickColor":"#333","tickWidth":1.2,"labels":false,"domain":false,"grid":false,"title":null,"zindex":1}},
"y":{"field":"v","type":"quantitative","scale":{"domain":[-75,75],"nice":false,"zero":false},"axis":null}}}
],"resolve":{"axis":{"x":"independent","y":"independent"}}},

{"width":425,"height":404.8,"data":{"name":"f9"},"layer":[
{"mark":{"type":"area","clip":true,"fillOpacity":1,"fill":{"gradient":"linear","x1":0,"y1":0,"x2":0,"y2":1,"stops":[{"offset":0,"color":"#767676"},{"offset":0.7268,"color":"#767676"},{"offset":0.7268,"color":"#373737"},{"offset":1,"color":"#373737"}]}},
"encoding":{"x":{"field":"w","type":"quantitative","scale":{"domain":[0,52],"nice":false,"zero":false},"axis":{"orient":"bottom","values":[0,13,26,39,52],"grid":true,"gridColor":"#2b2b2b","gridWidth":1.7,"labels":false,"ticks":false,"domain":false,"title":null,"zindex":1}},
"y":{"field":"v","type":"quantitative","scale":{"domain":[-75,175],"nice":false,"zero":false},"axis":{"orient":"left","values":[150,100,50,0,-50],"labelExpr":"datum.value > 0 ? '+ ' + datum.value : datum.value < 0 ? '– ' + (-datum.value) : '0'","grid":false,"ticks":false,"domain":false,"labelFont":"DejaVu Serif","labelFontWeight":"bold","labelFontSize":12.5,"labelColor":"#2a2a2a","labelPadding":6,"labelOverlap":false,"title":"Fig. IX.","titleAngle":0,"titleAlign":"center","titleBaseline":"top","titleX":-110,"titleY":150,"titleFont":"Liberation Serif","titleFontSize":28,"titleFontWeight":"normal","titleColor":"#2a2a2a"}},
"y2":{"datum":0}}},
{"mark":{"type":"point","opacity":0},
"encoding":{"x":{"field":"w","type":"quantitative","scale":{"domain":[0,52],"nice":false,"zero":false},"axis":null},
"y":{"field":"v","type":"quantitative","scale":{"domain":[-75,175],"nice":false,"zero":false},"axis":{"orient":"left","values":[150,100,50,0,-50],"grid":true,"gridColor":{"condition":{"test":"datum.value === 0","value":"#1a1a1a"},"value":"#4a4a4a"},"gridWidth":{"condition":{"test":"datum.value === 0","value":2.4},"value":1},"ticks":false,"domain":false,"labelExpr":"datum.value === 0 ? ['Mean','Line'] : ''","labelFont":"Liberation Serif","labelFontSize":14,"labelLineHeight":17,"labelColor":"#333","labelPadding":19,"labelOverlap":false,"zindex":1,"title":"DIARRHOEA.","titleAngle":0,"titleAlign":"center","titleBaseline":"top","titleX":-100,"titleY":208,"titleFont":"DejaVu Sans","titleFontSize":16.5,"titleFontWeight":"normal","titleColor":"#2a2a2a"}}}}
],"resolve":{"axis":{"x":"independent","y":"independent"}}},

{"width":425,"height":242.9,"data":{"name":"f10"},"layer":[
{"mark":{"type":"area","clip":true,"fillOpacity":1,"fill":{"gradient":"linear","x1":0,"y1":0,"x2":0,"y2":1,"stops":[{"offset":0,"color":"#767676"},{"offset":0.5319,"color":"#767676"},{"offset":0.5319,"color":"#373737"},{"offset":1,"color":"#373737"}]}},
"encoding":{"x":{"field":"w","type":"quantitative","scale":{"domain":[0,52],"nice":false,"zero":false},"axis":{"orient":"bottom","values":[0,13,26,39,52],"grid":true,"gridColor":"#2b2b2b","gridWidth":1.7,"labels":false,"ticks":false,"domain":false,"title":null,"zindex":1}},
"y":{"field":"v","type":"quantitative","scale":{"domain":[-75,75],"nice":false,"zero":false},"axis":{"orient":"left","values":[50,0,-50],"labelExpr":"datum.value > 0 ? '+ ' + datum.value : datum.value < 0 ? '– ' + (-datum.value) : '0'","grid":false,"ticks":false,"domain":false,"labelFont":"DejaVu Serif","labelFontWeight":"bold","labelFontSize":12.5,"labelColor":"#2a2a2a","labelPadding":6,"labelOverlap":false,"title":"Fig. X.","titleAngle":0,"titleAlign":"center","titleBaseline":"top","titleX":-110,"titleY":28,"titleFont":"Liberation Serif","titleFontSize":28,"titleFontWeight":"normal","titleColor":"#2a2a2a"}},
"y2":{"datum":0}}},
{"mark":{"type":"point","opacity":0},
"encoding":{"x":{"field":"w","type":"quantitative","scale":{"domain":[0,52],"nice":false,"zero":false},"axis":null},
"y":{"field":"v","type":"quantitative","scale":{"domain":[-75,75],"nice":false,"zero":false},"axis":{"orient":"left","values":[50,0,-50],"grid":true,"gridColor":{"condition":{"test":"datum.value === 0","value":"#1a1a1a"},"value":"#4a4a4a"},"gridWidth":{"condition":{"test":"datum.value === 0","value":2.4},"value":1},"ticks":false,"domain":false,"labelExpr":"datum.value === 0 ? ['Mean','Line'] : ''","labelFont":"Liberation Serif","labelFontSize":14,"labelLineHeight":17,"labelColor":"#333","labelPadding":19,"labelOverlap":false,"zindex":1,"title":["BRONCHITIS.","PNEUMONIA.","PLEURISY."],"titleAngle":0,"titleAlign":"right","titleBaseline":"top","titleX":-78,"titleY":79,"titleFont":"DejaVu Sans","titleFontSize":16.5,"titleFontWeight":"normal","titleLineHeight":24,"titleColor":"#2a2a2a"}}}}
],"resolve":{"axis":{"x":"independent","y":"independent"}}},

{"width":425,"height":242.9,"data":{"name":"f11"},"layer":[
{"mark":{"type":"area","clip":true,"fillOpacity":1,"fill":{"gradient":"linear","x1":0,"y1":0,"x2":0,"y2":1,"stops":[{"offset":0,"color":"#767676"},{"offset":0.5134,"color":"#767676"},{"offset":0.5134,"color":"#373737"},{"offset":1,"color":"#373737"}]}},
"encoding":{"x":{"field":"w","type":"quantitative","scale":{"domain":[0,52],"nice":false,"zero":false},"axis":{"orient":"bottom","values":[0,13,26,39,52],"grid":true,"gridColor":"#2b2b2b","gridWidth":1.7,"labels":false,"ticks":false,"domain":false,"title":null,"zindex":1}},
"y":{"field":"v","type":"quantitative","scale":{"domain":[-75,75],"nice":false,"zero":false},"axis":{"orient":"left","values":[50,0,-50],"labelExpr":"datum.value > 0 ? '+ ' + datum.value : datum.value < 0 ? '– ' + (-datum.value) : '0'","grid":false,"ticks":false,"domain":false,"labelFont":"DejaVu Serif","labelFontWeight":"bold","labelFontSize":12.5,"labelColor":"#2a2a2a","labelPadding":6,"labelOverlap":false,"title":"Fig. XI.","titleAngle":0,"titleAlign":"center","titleBaseline":"top","titleX":-110,"titleY":59,"titleFont":"Liberation Serif","titleFontSize":28,"titleFontWeight":"normal","titleColor":"#2a2a2a"}},
"y2":{"datum":0}}},
{"mark":{"type":"point","opacity":0},
"encoding":{"x":{"field":"w","type":"quantitative","scale":{"domain":[0,52],"nice":false,"zero":false},"axis":null},
"y":{"field":"v","type":"quantitative","scale":{"domain":[-75,75],"nice":false,"zero":false},"axis":{"orient":"left","values":[50,0,-50],"grid":true,"gridColor":{"condition":{"test":"datum.value === 0","value":"#1a1a1a"},"value":"#4a4a4a"},"gridWidth":{"condition":{"test":"datum.value === 0","value":2.4},"value":1},"ticks":false,"domain":false,"labelExpr":"datum.value === 0 ? ['Mean','Line'] : ''","labelFont":"Liberation Serif","labelFontSize":14,"labelLineHeight":17,"labelColor":"#333","labelPadding":19,"labelOverlap":false,"zindex":1,"title":"TYPHOID.","titleAngle":0,"titleAlign":"right","titleBaseline":"top","titleX":-74,"titleY":101,"titleFont":"DejaVu Sans","titleFontSize":16.5,"titleFontWeight":"normal","titleColor":"#2a2a2a"}}}}
],"resolve":{"axis":{"x":"independent","y":"independent"}}},

{"width":425,"height":404.8,"data":{"name":"f12"},"layer":[
{"mark":{"type":"area","clip":true,"fillOpacity":1,"fill":{"gradient":"linear","x1":0,"y1":0,"x2":0,"y2":1,"stops":[{"offset":0,"color":"#767676"},{"offset":0.522,"color":"#767676"},{"offset":0.522,"color":"#373737"},{"offset":1,"color":"#373737"}]}},
"encoding":{"x":{"field":"w","type":"quantitative","scale":{"domain":[0,52],"nice":false,"zero":false},"axis":{"orient":"bottom","values":[0,13,26,39,52],"grid":true,"gridColor":"#2b2b2b","gridWidth":1.7,"labels":false,"ticks":false,"domain":false,"title":null,"zindex":1}},
"y":{"field":"v","type":"quantitative","scale":{"domain":[-12.5,12.5],"nice":false,"zero":false},"axis":{"orient":"left","values":[10,5,0,-5,-10],"labelExpr":"datum.value > 0 ? '+ ' + datum.value + '°' : datum.value < 0 ? '– ' + (-datum.value) + '°' : '0'","grid":false,"ticks":false,"domain":false,"labelFont":"DejaVu Serif","labelFontWeight":"bold","labelFontSize":12.5,"labelColor":"#2a2a2a","labelPadding":6,"labelOverlap":false,"title":"Fig. XII.","titleAngle":0,"titleAlign":"center","titleBaseline":"top","titleX":-110,"titleY":107,"titleFont":"Liberation Serif","titleFontSize":28,"titleFontWeight":"normal","titleColor":"#2a2a2a"}},
"y2":{"datum":0}}},
{"mark":{"type":"point","opacity":0},
"encoding":{"x":{"field":"w","type":"quantitative","scale":{"domain":[0,52],"nice":false,"zero":false},"axis":null},
"y":{"field":"v","type":"quantitative","scale":{"domain":[-12.5,12.5],"nice":false,"zero":false},"axis":{"orient":"left","values":[10,5,0,-5,-10],"grid":true,"gridColor":{"condition":{"test":"datum.value === 0","value":"#1a1a1a"},"value":"#4a4a4a"},"gridWidth":{"condition":{"test":"datum.value === 0","value":2.4},"value":1},"ticks":false,"domain":false,"labelExpr":"datum.value === 0 ? ['Mean','Line'] : ''","labelFont":"Liberation Serif","labelFontSize":14,"labelLineHeight":17,"labelColor":"#333","labelPadding":19,"labelOverlap":false,"zindex":1,"title":["MEAN","TEMPERATURE."],"titleAngle":0,"titleAlign":"center","titleBaseline":"top","titleX":-110,"titleY":141,"titleFont":"DejaVu Sans","titleFontSize":16.5,"titleFontWeight":"normal","titleLineHeight":22,"titleColor":"#2a2a2a"}}}}
],"resolve":{"axis":{"x":"independent","y":"independent"}}},

{"width":425,"height":218.6,"data":{"name":"f13"},"layer":[
{"mark":{"type":"area","clip":true,"fillOpacity":1,"fill":{"gradient":"linear","x1":0,"y1":0,"x2":0,"y2":1,"stops":[{"offset":0,"color":"#767676"},{"offset":0.6125,"color":"#767676"},{"offset":0.6125,"color":"#373737"},{"offset":1,"color":"#373737"}]}},
"encoding":{"x":{"field":"w","type":"quantitative","scale":{"domain":[0,52],"nice":false,"zero":false},"axis":{"orient":"bottom","values":[0,13,26,39,52],"grid":true,"gridColor":"#2b2b2b","gridWidth":1.7,"labels":false,"ticks":false,"domain":false,"title":null,"zindex":1}},
"y":{"field":"v","type":"quantitative","scale":{"domain":[-60,75],"nice":false,"zero":false},"axis":{"orient":"left","values":[50,0,-50],"labelExpr":"datum.value > 0 ? '+ ' + datum.value + '°' : datum.value < 0 ? '– ' + (-datum.value) + '°' : '0'","grid":false,"ticks":false,"domain":false,"labelFont":"DejaVu Serif","labelFontWeight":"bold","labelFontSize":12.5,"labelColor":"#2a2a2a","labelPadding":6,"labelOverlap":false,"title":"Fig. XIII.","titleAngle":0,"titleAlign":"center","titleBaseline":"top","titleX":-110,"titleY":35,"titleFont":"Liberation Serif","titleFontSize":28,"titleFontWeight":"normal","titleColor":"#2a2a2a"}},
"y2":{"datum":0}}},
{"mark":{"type":"point","opacity":0},
"encoding":{"x":{"field":"w","type":"quantitative","scale":{"domain":[0,52],"nice":false,"zero":false},"axis":null},
"y":{"field":"v","type":"quantitative","scale":{"domain":[-60,75],"nice":false,"zero":false},"axis":{"orient":"left","values":[50,0,-50],"grid":true,"gridColor":{"condition":{"test":"datum.value === 0","value":"#1a1a1a"},"value":"#4a4a4a"},"gridWidth":{"condition":{"test":"datum.value === 0","value":2.4},"value":1},"ticks":false,"domain":false,"labelExpr":"datum.value === 0 ? ['Mean','Line'] : ''","labelFont":"Liberation Serif","labelFontSize":14,"labelLineHeight":17,"labelColor":"#333","labelPadding":19,"labelOverlap":false,"zindex":1,"title":["CUMULATIVE","TEMPERATURE","VARIABILITY."],"titleAngle":0,"titleAlign":"center","titleBaseline":"top","titleX":-123,"titleY":85,"titleFont":"DejaVu Sans","titleFontSize":16.5,"titleFontWeight":"normal","titleLineHeight":24,"titleColor":"#2a2a2a"}}}}
],"resolve":{"axis":{"x":"independent","y":"independent"}}},

{"width":425,"height":226.7,"data":{"name":"f14"},"layer":[
{"mark":{"type":"area","clip":true,"fillOpacity":1,"fill":{"gradient":"linear","x1":0,"y1":0,"x2":0,"y2":1,"stops":[{"offset":0,"color":"#767676"},{"offset":0.6721,"color":"#767676"},{"offset":0.6721,"color":"#373737"},{"offset":1,"color":"#373737"}]}},
"encoding":{"x":{"field":"w","type":"quantitative","scale":{"domain":[0,52],"nice":false,"zero":false},"axis":{"orient":"bottom","values":[0,13,26,39,52],"grid":true,"gridColor":"#2b2b2b","gridWidth":1.7,"labels":false,"ticks":false,"domain":false,"title":null,"zindex":1}},
"y":{"field":"v","type":"quantitative","scale":{"domain":[-50,90],"nice":false,"zero":false},"axis":{"orient":"left","values":[50,0,-50],"labelExpr":"datum.value > 0 ? '+ ' + datum.value : datum.value < 0 ? '– ' + (-datum.value) : '0'","grid":false,"ticks":false,"domain":false,"labelFont":"DejaVu Serif","labelFontWeight":"bold","labelFontSize":12.5,"labelColor":"#2a2a2a","labelPadding":6,"labelOverlap":false,"title":"Fig. XIV","titleAngle":0,"titleAlign":"center","titleBaseline":"top","titleX":-110,"titleY":79,"titleFont":"Liberation Serif","titleFontSize":28,"titleFontWeight":"normal","titleColor":"#2a2a2a"}},
"y2":{"datum":0}}},
{"mark":{"type":"point","opacity":0},
"encoding":{"x":{"field":"w","type":"quantitative","scale":{"domain":[0,52],"nice":false,"zero":false},"axis":{"orient":"bottom","values":[10,20,30,40,50],"ticks":false,"grid":false,"domain":true,"domainColor":"#2b2b2b","domainWidth":1.7,"labelFont":"DejaVu Serif","labelFontWeight":"bold","labelFontSize":10,"labelColor":"#333","labelPadding":3,"labelFlush":false,"labelOverlap":false,"title":null,"zindex":1}},
"y":{"field":"v","type":"quantitative","scale":{"domain":[-50,90],"nice":false,"zero":false},"axis":{"orient":"left","values":[50,0,-50],"grid":true,"gridColor":{"condition":{"test":"datum.value === 0","value":"#1a1a1a"},"value":"#4a4a4a"},"gridWidth":{"condition":{"test":"datum.value === 0","value":2.4},"value":1},"ticks":false,"domain":false,"labelExpr":"datum.value === 0 ? ['Mean','Line'] : ''","labelFont":"Liberation Serif","labelFontSize":14,"labelLineHeight":17,"labelColor":"#333","labelPadding":19,"labelOverlap":false,"zindex":1,"title":"RAINFALL.","titleAngle":0,"titleAlign":"center","titleBaseline":"top","titleX":-125,"titleY":128,"titleFont":"DejaVu Sans","titleFontSize":16.5,"titleFontWeight":"normal","titleColor":"#2a2a2a"}}}},
{"mark":{"type":"point","opacity":0},
"encoding":{"x":{"field":"w","type":"quantitative","scale":{"domain":[0,52],"nice":false,"zero":false},"axis":{"orient":"bottom","values":[4.33,8.67,17.33,21.67,30.33,34.67,43.33,47.67],"ticks":true,"tickSize":-6,"tickColor":"#333","tickWidth":1.2,"labels":false,"domain":false,"grid":false,"title":null,"zindex":1}},
"y":{"field":"v","type":"quantitative","scale":{"domain":[-50,90],"nice":false,"zero":false},"axis":null}}},
{"mark":{"type":"point","opacity":0},
"encoding":{"x":{"field":"w","type":"quantitative","scale":{"domain":[0,52],"nice":false,"zero":false},"axis":{"orient":"bottom","values":[10,20,30,40,50],"ticks":true,"tickSize":-16,"tickColor":"#333","tickWidth":1.2,"labels":false,"domain":false,"grid":false,"title":null,"zindex":1}},
"y":{"field":"v","type":"quantitative","scale":{"domain":[-50,90],"nice":false,"zero":false},"axis":null}}}
],"resolve":{"axis":{"x":"independent","y":"independent"}}}
],"spacing":0,"bounds":"flush"}
]
}
